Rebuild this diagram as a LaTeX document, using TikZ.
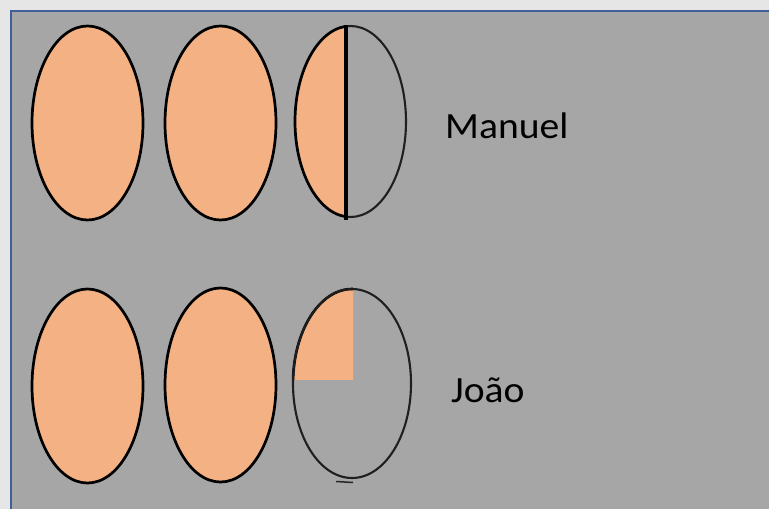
\documentclass[tikz,border=0pt]{standalone}
\usepackage{fontspec}
\setmainfont{Carlito}
\definecolor{pagebg}{HTML}{E6E6E6}
\definecolor{panelgray}{HTML}{A6A6A6}
\definecolor{framblue}{HTML}{3F5F9B}
\definecolor{peach}{HTML}{F4B183}
\newcommand{\widetext}[1]{\scalebox{1.07}[1]{#1}}
\begin{document}
\begin{tikzpicture}[x=1pt,y=-1pt,
  egg/.style={fill=peach,draw=black,line width=2.7pt},
  eggline/.style={draw=black!88,line width=2.1pt},
  personlabel/.style={anchor=base west,inner sep=0pt,font=\fontsize{37}{44}\selectfont,text=black}]
  % page and grey panel
  \fill[pagebg] (0,0) rectangle (769,509);
  \useasboundingbox (0,0) rectangle (769,509);
  \fill[panelgray,draw=framblue,line width=2.6pt] (11,11) rectangle (790,530);

  % --- Manuel: two whole parts and a half ---
  \path[egg] (87.5,123) ellipse [x radius=55.5pt, y radius=97pt];
  \path[egg] (220.5,123) ellipse [x radius=55.5pt, y radius=97pt];
  \begin{scope}
    \clip (280,0) rectangle (346,240);
    \fill[peach] (350.5,121.5) ellipse [x radius=55.5pt, y radius=95.5pt];
    \draw[black,line width=2.7pt] (350.5,121.5) ellipse [x radius=55.5pt, y radius=95.5pt];
  \end{scope}
  \begin{scope}
    \clip (346,0) rectangle (420,240);
    \draw[eggline] (350.5,121.5) ellipse [x radius=55.5pt, y radius=95.5pt];
  \end{scope}
  \coordinate (halftop) at (346,25);
  \coordinate (halfbot) at (346,220);
  \draw[black,line width=3.4pt] (halftop) -- (halfbot);
  \node[personlabel] (manuel) at (445,138.5) {\widetext{Manuel}};

  % --- João: two whole parts and a quarter ---
  \path[egg] (87.5,386) ellipse [x radius=55.5pt, y radius=97pt];
  \path[egg] (220.5,385) ellipse [x radius=55.5pt, y radius=97pt];
  \begin{scope}
    \clip (280,280) rectangle (353,379);
    \fill[peach] (352,383.5) ellipse [x radius=59pt, y radius=94.5pt];
    \draw[black,line width=2.6pt] (352,383.5) ellipse [x radius=59pt, y radius=94.5pt];
  \end{scope}
  \draw[eggline] (352,383.5) ellipse [x radius=59pt, y radius=94.5pt];
  \coordinate (tickL) at (336,481.5);
  \coordinate (tickR) at (353,482.5);
  \draw[black!85,line width=1.5pt] (tickL) -- (tickR);
  \node[personlabel] (joao) at (451,402) {\widetext{João}};
\end{tikzpicture}
\end{document}
